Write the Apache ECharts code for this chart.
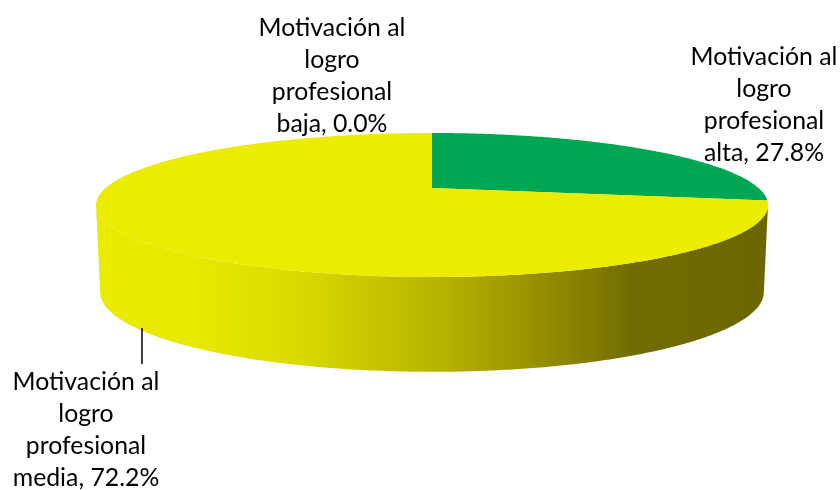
<!DOCTYPE html>
<html>
<head>
<meta charset="utf-8">
<style>html,body{margin:0;padding:0;background:#fff}#chart{width:840px;height:490px}</style>
<script src="https://cdn.jsdelivr.net/npm/echarts@6/dist/echarts.min.js"></script>
</head>
<body>
<div id="chart"></div>
<script>
// Motivation levels, clockwise from twelve o'clock
const levels = ['alta', 'media', 'baja'];
const shares = [27.8, 72.2, 0.0];
const labelPrefix = 'Motivación al\nlogro\nprofesional\n';

const topColors = ['#00A651', '#ECEC00', '#ECEC00'];
const wallStops = [
  [0, '#EBEB00'], [0.14, '#E9E900'], [0.3, '#DADA00'], [0.42, '#C6C400'],
  [0.52, '#B5B200'], [0.66, '#958F00'], [0.8, '#726C00'], [1, '#6B6600']
];
const labelCenters = [[764, 41], [86, 366], [332, 12]];

// Perspective view of the disc: the near half is drawn larger than the far half
const TILT = 0.236;
const topFace = { cx: 432, cy: 188, a: 326.5, b: 68 };
const baseFace = { cx: 432, cy: 273, a: 322.5, b: 75.5 };
const project = (face, deg) => {
  const r = deg * Math.PI / 180;
  const u = Math.sin(r), v = -Math.cos(r), d = 1 - TILT * v;
  return [face.cx + face.a * u / d, face.cy + face.b * v / d];
};
const arc = (face, from, to) => {
  const n = Math.max(2, Math.ceil(Math.abs(to - from) * 2));
  const pts = [];
  for (let i = 0; i <= n; i++) pts.push(project(face, from + (to - from) * i / n));
  return pts;
};
// Arc range where the side wall faces the viewer
const silhouette = Math.acos(-TILT) * 180 / Math.PI;

const total = shares.reduce((s, v) => s + v, 0);
const starts = shares.map((_, i) => shares.slice(0, i).reduce((s, v) => s + v, 0) / total * 360);

function renderSlice(params, api) {
  const i = api.value(0);
  const start = starts[i];
  const end = start + api.value(1) / total * 360;
  const children = [];
  const wallFrom = Math.max(start, silhouette);
  const wallTo = Math.min(end, 360 - silhouette);
  if (wallTo > wallFrom) {
    children.push({
      type: 'polygon', z2: 1,
      shape: { points: arc(topFace, wallFrom, wallTo).concat(arc(baseFace, wallTo, wallFrom)) },
      style: { fill: { type: 'linear', x: 96, y: 0, x2: 768, y2: 0, global: true, colorStops: wallStops.map(s => ({ offset: s[0], color: s[1] })) } }
    });
  }
  if (end > start) {
    children.push({
      type: 'polygon', z2: 2,
      shape: { points: [[topFace.cx, topFace.cy]].concat(arc(topFace, start, end)) },
      style: { fill: topColors[i] }
    });
  }
  const [lx, ly] = labelCenters[i];
  children.push({
    type: 'text', z2: 3, x: lx, y: ly,
    style: {
      text: labelPrefix + levels[i] + ', ' + api.value(1).toFixed(1) + '%',
      fontFamily: 'Lato', fontSize: 24.8, lineHeight: 32, fill: '#000',
      align: 'center', verticalAlign: 'top'
    }
  });
  // leader line of the media label
  if (levels[i] === 'media') {
    children.push({
      type: 'line', z2: 3,
      shape: { x1: 142, y1: 328, x2: 142, y2: 364 },
      style: { stroke: '#000', lineWidth: 1.5 }
    });
  }
  return { type: 'group', children };
}

const chart = echarts.init(document.getElementById('chart'), null, { renderer: 'canvas' });
chart.setOption({
  animation: false,
  backgroundColor: '#fff',
  series: [{
    type: 'custom',
    coordinateSystem: 'none',
    renderItem: renderSlice,
    data: shares.map((v, i) => [i, v])
  }]
});
</script>
</body>
</html>
